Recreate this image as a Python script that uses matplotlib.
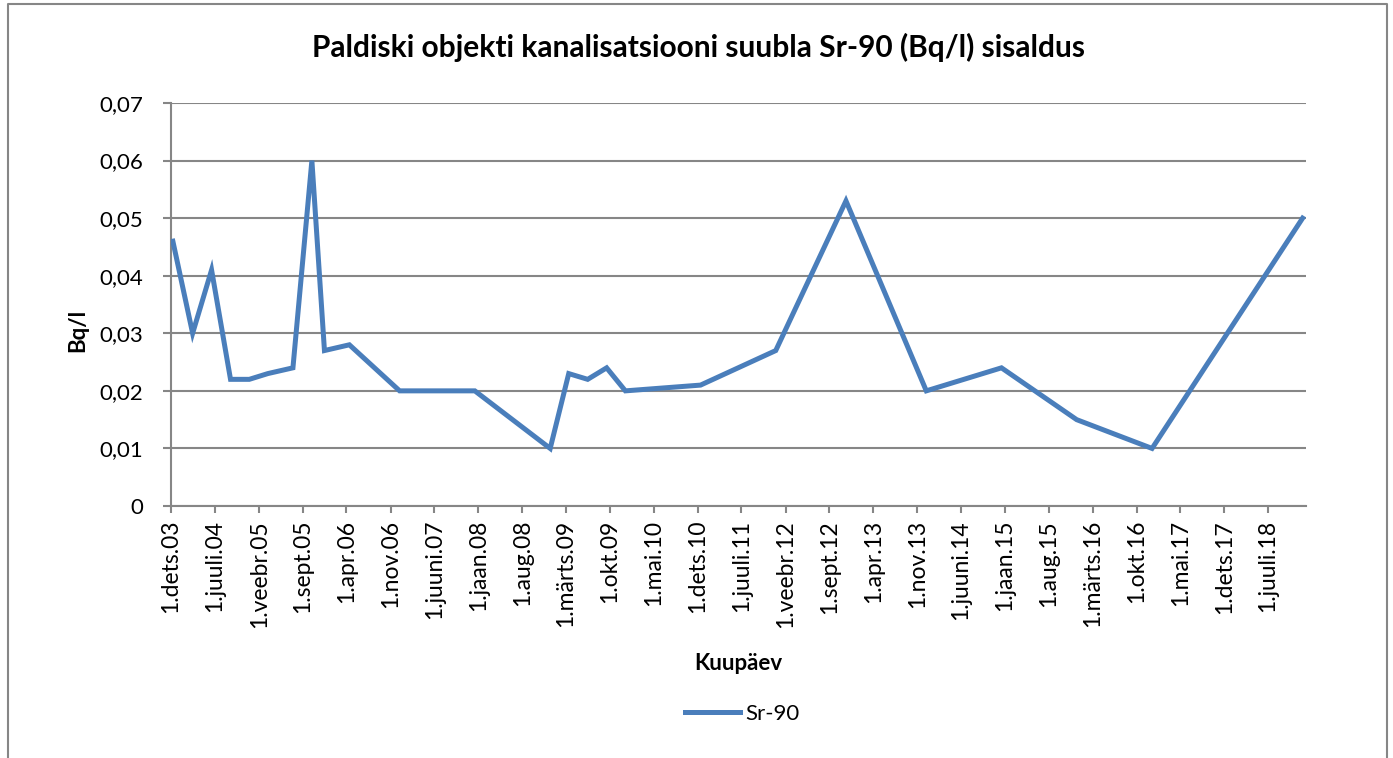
import numpy as np
import pandas as pd
import matplotlib
matplotlib.use("Agg")
from matplotlib import pyplot as plt
from matplotlib.lines import Line2D

plt.rcParams['font.family'] = ['Lato', 'DejaVu Sans']

# measurement dates and Sr-90 values (Bq/l)
dates = pd.to_datetime([
    "2003-12-10", "2004-03-15", "2004-06-15", "2004-09-15", "2004-12-15",
    "2005-03-15", "2005-07-15", "2005-10-15", "2005-12-15", "2006-04-15",
    "2006-12-15", "2007-12-15", "2008-12-15", "2009-03-15", "2009-06-15",
    "2009-09-15", "2009-12-15", "2010-12-15", "2011-12-15", "2012-11-20",
    "2013-12-15", "2014-12-15", "2015-12-15", "2016-12-15", "2018-12-16",
])
sr90 = [0.046, 0.030, 0.041, 0.022, 0.022,
        0.023, 0.024, 0.060, 0.027, 0.028,
        0.020, 0.020, 0.010, 0.023, 0.022,
        0.024, 0.020, 0.021, 0.027, 0.053,
        0.020, 0.024, 0.015, 0.010, 0.050]

tick_dates = pd.date_range("2003-12-01", periods=26, freq="7MS")
tick_labels = ["1.dets.03", "1.juuli.04", "1.veebr.05", "1.sept.05", "1.apr.06",
               "1.nov.06", "1.juuni.07", "1.jaan.08", "1.aug.08", "1.märts.09",
               "1.okt.09", "1.mai.10", "1.dets.10", "1.juuli.11", "1.veebr.12",
               "1.sept.12", "1.apr.13", "1.nov.13", "1.juuni.14", "1.jaan.15",
               "1.aug.15", "1.märts.16", "1.okt.16", "1.mai.17", "1.dets.17",
               "1.juuli.18"]
y_ticks = [0, 0.01, 0.02, 0.03, 0.04, 0.05, 0.06, 0.07]
y_labels = ["0", "0,01", "0,02", "0,03", "0,04", "0,05", "0,06", "0,07"]

W, H = 1393, 758
grey = "#868686"
blue = "#4A7EBB"

fig = plt.figure(figsize=(W/100, H/100), dpi=100)
ax = fig.add_axes([171/W, 1 - 506/H, (1305.7 - 171)/W, (506 - 103)/H])

ax.plot(dates, sr90, color=blue, lw=3.6, solid_joinstyle='miter', label="Sr-90", zorder=3)

ax.set_xlim(pd.Timestamp("2003-12-01"), pd.Timestamp("2018-12-31"))
ax.set_ylim(0, 0.07)
ax.set_xticks(tick_dates)
ax.set_xticklabels(tick_labels, rotation=90, fontsize=16.5)
ax.set_yticks(y_ticks)
ax.set_yticklabels(y_labels, fontsize=16)

ax.grid(axis='y', color=grey, lw=1.5)
ax.set_axisbelow(True)
for s in ['top', 'right']:
    ax.spines[s].set_visible(False)
for s in ['left', 'bottom']:
    ax.spines[s].set_color(grey)
    ax.spines[s].set_linewidth(1.5)
ax.tick_params(axis='x', direction='out', length=5, width=1.5, color=grey, pad=5)
ax.tick_params(axis='y', direction='out', length=6, width=1.5, color=grey, pad=14)

fig.text(699/W, 1 - 47/H, "Paldiski objekti kanalisatsiooni suubla Sr-90 (Bq/l) sisaldus",
         ha='center', va='center', fontsize=21.5, fontweight='bold')
fig.text(78/W, 1 - 330/H, "Bq/l", rotation=90, ha='center', va='center',
         fontsize=16, fontweight='bold')
fig.text(738/W, 1 - 663/H, "Kuupäev", ha='center', va='center',
         fontsize=16, fontweight='bold')

fig.legend(loc='center', bbox_to_anchor=(742/W, 1 - 714/H), frameon=False,
           fontsize=16, handlelength=2.5, handletextpad=0.2)

# outer chart border
bx = [8/W, 8/W, 1386.5/W, 1386.5/W]
by = [0, 1 - 4/H, 1 - 4/H, 0]
fig.add_artist(Line2D(bx, by, transform=fig.transFigure, color=grey, lw=1.5))

fig.savefig("out.png", dpi=100)
